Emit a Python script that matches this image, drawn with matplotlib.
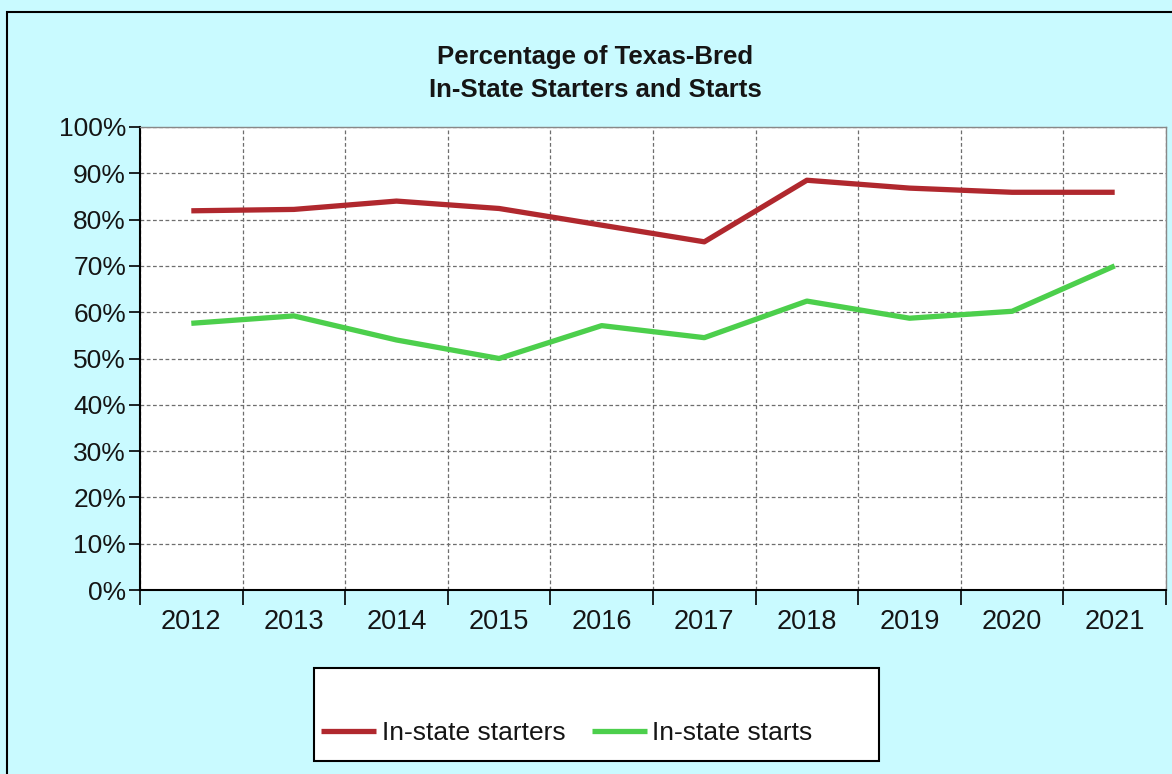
import matplotlib
matplotlib.use("Agg")
import matplotlib.pyplot as plt
from matplotlib.patches import Rectangle
from matplotlib.ticker import FixedLocator, FuncFormatter

years = ["2012", "2013", "2014", "2015", "2016", "2017", "2018", "2019", "2020", "2021"]
starters = [81.9, 82.2, 84.0, 82.4, 78.8, 75.2, 88.5, 86.8, 85.9, 85.9]
starts = [57.6, 59.2, 54.0, 50.0, 57.1, 54.5, 62.4, 58.7, 60.2, 70.0]
series_names = ["In-state starters", "In-state starts"]
colors = ["#B0282E", "#4CCF4C"]

plt.rcParams['font.family'] = ['Liberation Sans', 'DejaVu Sans']

W, H = 1172, 774
fig = plt.figure(figsize=(W / 100, H / 100), dpi=100)
bg = "#C9FAFF"
fig.patch.set_facecolor(bg)

# outer frame
fig.patches.append(Rectangle((7 / W, -0.1), 1.2, 1 - 12 / H + 0.1, transform=fig.transFigure,
                             fill=False, edgecolor="black", linewidth=1.5, zorder=0))

ax = fig.add_axes([140 / W, 1 - 590 / H, (1166 - 140) / W, (590 - 127) / H])
ax.set_facecolor("white")

x = list(range(len(years)))
l1, = ax.plot(x, starters, color=colors[0], linewidth=3.8, solid_capstyle='butt', zorder=3)
l2, = ax.plot(x, starts, color=colors[1], linewidth=3.8, solid_capstyle='butt', zorder=3)

ax.set_xlim(-0.5, len(years) - 0.5)
ax.set_ylim(0, 100)
ax.xaxis.set_major_locator(FixedLocator([i - 0.5 for i in range(len(years) + 1)]))
ax.xaxis.set_minor_locator(FixedLocator(x))
ax.set_xticklabels([])
ax.set_xticklabels(years, minor=True)
ax.tick_params(axis='x', which='major', length=11, width=1.2, direction='out', color='black')
ax.tick_params(axis='x', which='minor', length=0, labelsize=19.5, pad=14, labelcolor='#151515')
ax.yaxis.set_major_locator(FixedLocator(range(0, 101, 10)))
ax.yaxis.set_major_formatter(FuncFormatter(lambda v, p: f"{int(v)}%"))
ax.tick_params(axis='y', length=8, width=1.2, direction='out', labelsize=19, pad=2, labelcolor='#151515')

ax.grid(True, which='major', color='#6E6E6E', linestyle=(0, (3, 2)), linewidth=0.9)
ax.set_axisbelow(True)
for s in ['left', 'bottom']:
    ax.spines[s].set_color('black')
    ax.spines[s].set_linewidth(1.5)
for s in ['top', 'right']:
    ax.spines[s].set_color('#888888')
    ax.spines[s].set_linewidth(1.0)

fig.text(595 / W, 1 - 57 / H, "Percentage of Texas-Bred", ha='center', va='center',
         fontsize=18.5, fontweight='bold', color='#151515')
fig.text(595 / W, 1 - 90 / H, "In-State Starters and Starts", ha='center', va='center',
         fontsize=18.5, fontweight='bold', color='#151515')

# legend box
fig.patches.append(Rectangle((314 / W, 1 - 761 / H), (879 - 314) / W, (761 - 668) / H,
                             transform=fig.transFigure, facecolor='white', edgecolor='black',
                             linewidth=1.5, zorder=1))
leg = fig.legend([l1, l2], series_names, loc='center left', bbox_to_anchor=(321 / W, 1 - 733 / H),
                 ncol=2, frameon=False, fontsize=19, handlelength=2.1, handletextpad=0.2,
                 columnspacing=1.0, borderpad=0, borderaxespad=0)
leg.set_zorder(5)
for t in leg.get_texts():
    t.set_color('#151515')

fig.savefig("out.png", dpi=100, facecolor=bg)
